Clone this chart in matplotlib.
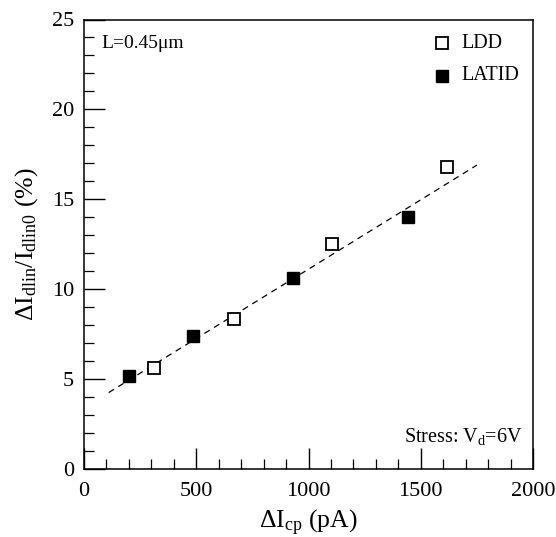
import matplotlib
matplotlib.use("Agg")
import matplotlib.pyplot as plt
from matplotlib.ticker import MultipleLocator

plt.rcParams['font.family'] = ['Liberation Serif', 'DejaVu Serif']
plt.rcParams['mathtext.fontset'] = 'custom'
plt.rcParams['mathtext.rm'] = 'Liberation Serif'
plt.rcParams['mathtext.it'] = 'Liberation Serif:italic'
plt.rcParams['mathtext.default'] = 'regular'

ldd_x = [313, 669, 1106, 1618]
ldd_y = [5.6, 8.33, 12.5, 16.8]
latid_x = [202, 487, 931, 1445]
latid_y = [5.19, 7.4, 10.62, 14.0]
fit_x = [110, 1750]
fit_y = [4.25, 16.9]

xticks = [0, 500, 1000, 1500, 2000]
yticks = [0, 5, 10, 15, 20, 25]

fig = plt.figure(figsize=(5.56, 5.37), dpi=100)
ax = fig.add_axes([84/556, 1-469/537, (533-84)/556, (469-19.5)/537])

ax.plot(fit_x, fit_y, color='black', lw=0.9, ls=(0, (5, 4)), zorder=1)
ax.plot(ldd_x, ldd_y, ls='none', marker='s', ms=8.6, mfc='white', mec='black', mew=1.3, zorder=3)
ax.plot(latid_x, latid_y, ls='none', marker='s', ms=9.2, mfc='black', mec='black', mew=1, zorder=3)

ax.set_xlim(0, 2000)
ax.set_ylim(0, 25)
ax.set_xticks(xticks)
ax.set_yticks(yticks)
ax.xaxis.set_minor_locator(MultipleLocator(100))
ax.yaxis.set_minor_locator(MultipleLocator(1))
ax.tick_params(which='major', direction='in', length=15, width=1, labelsize=16, pad=7,
               top=False, right=False)
ax.tick_params(which='major', axis='x', pad=9)
ax.tick_params(which='minor', direction='in', length=7.5, width=0.9, top=False, right=False)
for s in ax.spines.values():
    s.set_linewidth(1.1)

ax.set_xlabel(r'$\Delta$I$_{\mathrm{cp}}$ (pA)', fontsize=18.5, labelpad=5)
ax.set_ylabel(r'$\Delta$I$_{\mathrm{dlin}}$/I$_{\mathrm{dlin0}}$ (%)', fontsize=18.5, labelpad=9)

ax.text(0.038, 0.947, 'L=0.45\u03bcm', transform=ax.transAxes, fontsize=14, va='center', ha='left')
ax.text(0.976, 0.072, r'Stress: V$_{\mathrm{d}}$=6V', transform=ax.transAxes, fontsize=14.5,
        va='center', ha='right')

# legend
lx_marker = (441.7 - 84) / (533 - 84) * 2000
ax.plot([lx_marker], [(469 - 43) / 17.98], marker='s', ms=9.2, mfc='white', mec='black', mew=1.3,
        ls='none', clip_on=False)
ax.plot([lx_marker], [(469 - 76) / 17.98], marker='s', ms=9.2, mfc='black', mec='black',
        ls='none', clip_on=False)
lx_text = (461 - 84) / (533 - 84) * 2000
ax.text(lx_text, (469 - 43) / 17.98, 'LDD', fontsize=14.5, va='center', ha='left')
ax.text(lx_text, (469 - 76) / 17.98, 'LATID', fontsize=14.5, va='center', ha='left')

fig.savefig('out.png', dpi=100)
